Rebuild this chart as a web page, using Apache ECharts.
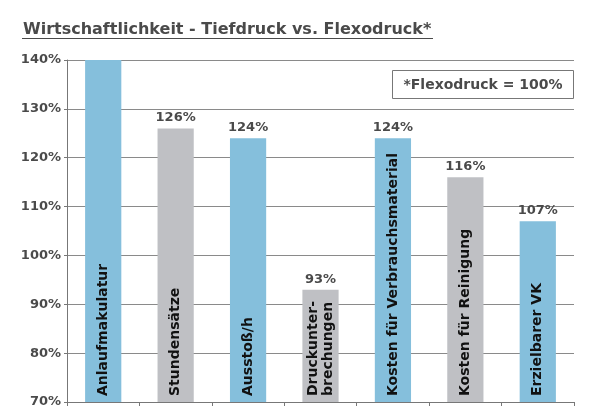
<!DOCTYPE html>
<html><head><meta charset="utf-8">
<script src="https://cdn.jsdelivr.net/npm/echarts@6/dist/echarts.min.js"></script>
<style>html,body{margin:0;padding:0;background:#fff}#c{width:590px;height:420px}</style>
</head><body><div id="c"></div>
<script>
var categories = ['Anlaufmakulatur','Stundensätze','Ausstoß/h','Druckunter-\nbrechungen','Kosten für Verbrauchsmaterial','Kosten für Reinigung','Erzielbarer VK'];
var values = [140, 126, 124, 93, 124, 116, 107];
var yTicks = [70, 80, 90, 100, 110, 120, 130, 140];
var titleText = 'Wirtschaftlichkeit - Tiefdruck vs. Flexodruck*';
var noteText = '*Flexodruck = 100%';
var blue = '#85bfdc', gray = '#bfc0c4';
var chart = echarts.init(document.getElementById('c'));
chart.setOption({
  animation: false,
  grid: {left: 67, right: 16, top: 60, bottom: 18, containLabel: false},
  graphic: [
    {type: 'text', left: 23, top: 22, style: {text: titleText, font: 'bold 16px "DejaVu Sans"', fill: '#4a4a4a'}},
    {type: 'line', shape: {x1: 22, y1: 38.5, x2: 433, y2: 38.5}, style: {stroke: '#4a4a4a', lineWidth: 1.2}},
    {type: 'rect', shape: {x: 392.5, y: 70.5, width: 181, height: 28}, style: {fill: '#fff', stroke: '#777', lineWidth: 1}, z: 10},
    {type: 'text', x: 483, y: 85, z: 11, style: {text: noteText, font: 'bold 14px "DejaVu Sans"', fill: '#4a4a4a', align: 'center', verticalAlign: 'middle'}}
  ],
  xAxis: {
    type: 'category', data: categories,
    axisLine: {lineStyle: {color: '#777', width: 1}},
    axisTick: {show: true, length: 4, lineStyle: {color: '#777'}},
    axisLabel: {inside: true, rotate: 90, margin: 6, color: '#111', fontFamily: 'DejaVu Sans', fontWeight: 'bold', fontSize: 14, lineHeight: 15},
    z: 5
  },
  yAxis: {
    type: 'value', min: yTicks[0], max: yTicks[yTicks.length-1], interval: 10,
    axisLine: {show: true, lineStyle: {color: '#777'}},
    axisTick: {show: true, length: 3, lineStyle: {color: '#777'}},
    axisLabel: {formatter: '{value}%', color: '#4a4a4a', fontFamily: 'DejaVu Sans', fontWeight: 'bold', fontSize: 13, margin: 6},
    splitLine: {lineStyle: {color: '#8a8a8a', width: 1}}
  },
  series: [{
    type: 'bar', data: values, barWidth: '50%',
    itemStyle: {color: function(p){ return p.dataIndex % 2 ? gray : blue; }},
    label: {show: true, position: 'top', distance: 4, color: '#4a4a4a', fontFamily: 'DejaVu Sans', fontWeight: 'bold', fontSize: 13,
      formatter: function(p){ return p.value >= yTicks[yTicks.length-1] ? '' : p.value + '%'; }}
  }]
});
</script></body></html>
